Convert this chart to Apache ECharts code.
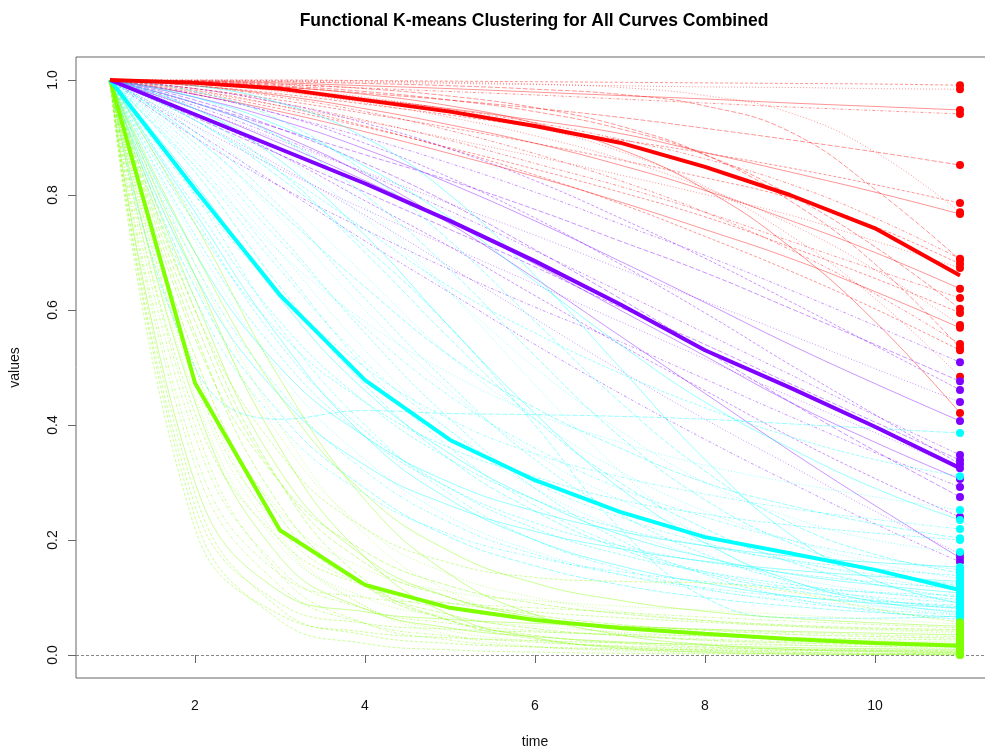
<!DOCTYPE html>
<html>
<head>
<meta charset="utf-8">
<script src="https://cdn.jsdelivr.net/npm/echarts@6/dist/echarts.min.js"></script>
<style>html,body{margin:0;padding:0;background:#fff}#c{width:985px;height:749px}</style>
</head>
<body>
<div id="c"></div>
<script>
const TIME = [1,2,3,4,5,6,7,8,9,10,11];
const X_TICKS = [2,4,6,8,10];
const Y_TICKS = [0,0.2,0.4,0.6,0.8,1.0];

const RED_CURVES = [
[1,1,1,0.999,0.998,0.997,0.996,0.995,0.994,0.993,0.991],
[1,0.999,0.998,0.996,0.994,0.992,0.99,0.988,0.987,0.985,0.984],
[1,0.998,0.995,0.99,0.985,0.979,0.973,0.967,0.96,0.954,0.948],
[1,0.997,0.992,0.986,0.98,0.974,0.967,0.96,0.953,0.947,0.941],
[1,0.996,0.988,0.977,0.965,0.951,0.935,0.916,0.896,0.875,0.852],
[1,0.99,0.976,0.958,0.939,0.918,0.896,0.873,0.847,0.818,0.786],
[1,1,0.999,0.998,0.996,0.993,0.987,0.973,0.943,0.875,0.770],
[1,0.993,0.982,0.967,0.95,0.93,0.907,0.874,0.84,0.805,0.767],
[1,0.994,0.983,0.968,0.949,0.926,0.897,0.863,0.819,0.76,0.689],
[1,0.999,0.997,0.994,0.99,0.984,0.975,0.955,0.91,0.81,0.687],
[1,0.985,0.965,0.942,0.917,0.89,0.861,0.83,0.795,0.745,0.680],
[1,0.98,0.955,0.928,0.898,0.867,0.835,0.801,0.765,0.72,0.673],
[1,0.99,0.973,0.95,0.922,0.89,0.852,0.808,0.756,0.7,0.637],
[1,0.985,0.96,0.93,0.895,0.855,0.815,0.77,0.72,0.67,0.621],
[1,0.997,0.99,0.98,0.965,0.945,0.915,0.87,0.8,0.71,0.602],
[1,0.978,0.95,0.918,0.882,0.845,0.805,0.762,0.71,0.655,0.595],
[1,0.993,0.98,0.96,0.935,0.903,0.863,0.812,0.75,0.67,0.574],
[1,0.975,0.945,0.91,0.872,0.832,0.788,0.74,0.69,0.632,0.569],
[1,0.99,0.97,0.945,0.912,0.872,0.825,0.77,0.705,0.628,0.541],
[1,0.998,0.993,0.985,0.972,0.952,0.92,0.87,0.79,0.68,0.534],
[1,0.982,0.955,0.92,0.88,0.835,0.785,0.728,0.668,0.602,0.530],
[1,0.995,0.985,0.97,0.948,0.918,0.876,0.815,0.73,0.62,0.484],
[1,0.996,0.988,0.975,0.955,0.925,0.88,0.81,0.71,0.58,0.421]
];

const PURPLE_CURVES = [
[1,0.975,0.94,0.9,0.855,0.805,0.75,0.695,0.635,0.573,0.509],
[1,0.96,0.915,0.87,0.825,0.775,0.72,0.665,0.603,0.54,0.476],
[1,0.985,0.96,0.925,0.88,0.825,0.76,0.69,0.615,0.538,0.461],
[1,0.95,0.895,0.84,0.785,0.73,0.672,0.615,0.557,0.498,0.44],
[1,0.97,0.93,0.88,0.82,0.755,0.685,0.613,0.54,0.472,0.407],
[1,0.955,0.9,0.838,0.772,0.703,0.632,0.56,0.488,0.417,0.348],
[1,0.935,0.87,0.805,0.74,0.675,0.605,0.54,0.472,0.405,0.339],
[1,0.975,0.94,0.89,0.83,0.76,0.68,0.595,0.505,0.418,0.332],
[1,0.92,0.845,0.775,0.71,0.645,0.58,0.515,0.45,0.387,0.325],
[1,0.95,0.89,0.825,0.755,0.68,0.6,0.52,0.44,0.37,0.306],
[1,0.9,0.815,0.74,0.67,0.605,0.545,0.48,0.415,0.352,0.292],
[1,0.965,0.915,0.855,0.785,0.705,0.62,0.53,0.44,0.355,0.275],
[1,0.94,0.87,0.79,0.71,0.625,0.54,0.46,0.38,0.307,0.24],
[1,0.93,0.85,0.765,0.675,0.585,0.495,0.41,0.33,0.25,0.176],
[1,0.96,0.905,0.835,0.75,0.655,0.555,0.455,0.355,0.26,0.169],
[1,0.91,0.815,0.72,0.63,0.54,0.455,0.375,0.3,0.228,0.162]
];

const CYAN_CURVES = [
[1,0.5,0.41,0.425,0.42,0.418,0.415,0.41,0.402,0.394,0.386],
[1,0.93,0.84,0.74,0.64,0.56,0.49,0.43,0.38,0.34,0.311],
[1,0.85,0.7,0.58,0.49,0.42,0.37,0.33,0.3,0.275,0.252],
[1,0.97,0.92,0.85,0.76,0.65,0.54,0.44,0.36,0.29,0.235],
[1,0.8,0.63,0.5,0.41,0.35,0.31,0.28,0.255,0.236,0.219],
[1,0.9,0.77,0.64,0.52,0.43,0.36,0.3,0.26,0.228,0.203],
[1,0.75,0.56,0.44,0.36,0.31,0.27,0.245,0.226,0.212,0.2],
[1,0.95,0.87,0.76,0.63,0.5,0.39,0.3,0.24,0.2,0.179],
[1,0.7,0.5,0.38,0.3,0.25,0.215,0.19,0.172,0.161,0.153],
[1,0.88,0.72,0.57,0.45,0.36,0.29,0.24,0.2,0.17,0.148],
[1,0.98,0.93,0.84,0.72,0.58,0.44,0.32,0.23,0.175,0.143],
[1,0.78,0.58,0.44,0.34,0.27,0.22,0.19,0.165,0.15,0.138],
[1,0.92,0.8,0.66,0.52,0.41,0.32,0.25,0.2,0.16,0.133],
[1,0.66,0.45,0.33,0.26,0.215,0.185,0.163,0.148,0.137,0.128],
[1,0.85,0.67,0.51,0.39,0.3,0.24,0.195,0.163,0.14,0.124],
[1,0.96,0.9,0.8,0.67,0.52,0.38,0.27,0.195,0.148,0.12],
[1,0.73,0.52,0.38,0.29,0.23,0.19,0.162,0.142,0.127,0.116],
[1,0.9,0.76,0.6,0.46,0.35,0.27,0.21,0.167,0.135,0.112],
[1,0.82,0.62,0.46,0.35,0.27,0.21,0.17,0.141,0.122,0.108],
[1,0.62,0.4,0.28,0.21,0.17,0.145,0.128,0.117,0.109,0.104],
[1,0.94,0.84,0.7,0.55,0.41,0.3,0.22,0.162,0.123,0.1],
[1,0.76,0.54,0.39,0.29,0.22,0.175,0.145,0.123,0.108,0.097],
[1,0.87,0.7,0.53,0.39,0.29,0.22,0.17,0.135,0.11,0.094],
[1,0.99,0.96,0.9,0.8,0.66,0.5,0.34,0.21,0.13,0.09],
[1,0.68,0.46,0.32,0.23,0.175,0.14,0.117,0.102,0.093,0.087],
[1,0.84,0.64,0.47,0.34,0.25,0.185,0.142,0.113,0.095,0.084],
[1,0.91,0.78,0.62,0.47,0.34,0.245,0.175,0.128,0.098,0.08],
[1,0.72,0.49,0.34,0.24,0.18,0.14,0.113,0.096,0.085,0.077],
[1,0.95,0.86,0.73,0.57,0.42,0.29,0.195,0.13,0.093,0.074],
[1,0.8,0.57,0.4,0.28,0.2,0.15,0.115,0.093,0.079,0.07],
[1,0.64,0.42,0.29,0.205,0.155,0.122,0.1,0.085,0.074,0.066],
[1,0.89,0.73,0.56,0.41,0.29,0.2,0.14,0.1,0.076,0.062],
[1,0.97,0.9,0.78,0.63,0.47,0.32,0.2,0.125,0.087,0.072],
[1,0.77,0.55,0.38,0.27,0.2,0.155,0.125,0.103,0.09,0.082],
[1,0.86,0.68,0.5,0.36,0.26,0.19,0.145,0.118,0.101,0.092],
[1,0.93,0.83,0.71,0.57,0.4,0.22,0.1,0.065,0.064,0.068]
];

const GREEN_CURVES = [
[1,0.6,0.35,0.22,0.16,0.135,0.128,0.125,0.11,0.08,0.057],
[1,0.5,0.25,0.15,0.11,0.095,0.085,0.078,0.07,0.062,0.054],
[1,0.7,0.45,0.28,0.18,0.125,0.095,0.076,0.064,0.056,0.05],
[1,0.35,0.14,0.1,0.09,0.082,0.074,0.066,0.059,0.053,0.047],
[1,0.55,0.3,0.18,0.12,0.09,0.072,0.06,0.052,0.047,0.044],
[1,0.42,0.2,0.12,0.09,0.075,0.065,0.057,0.05,0.045,0.041],
[1,0.65,0.38,0.22,0.14,0.1,0.076,0.06,0.05,0.043,0.038],
[1,0.3,0.11,0.075,0.062,0.055,0.05,0.045,0.041,0.038,0.035],
[1,0.48,0.22,0.12,0.08,0.062,0.051,0.044,0.039,0.035,0.032],
[1,0.58,0.3,0.16,0.1,0.07,0.053,0.043,0.036,0.032,0.029],
[1,0.26,0.09,0.055,0.045,0.04,0.036,0.033,0.03,0.028,0.026],
[1,0.45,0.19,0.1,0.066,0.05,0.04,0.033,0.028,0.025,0.023],
[1,0.62,0.32,0.17,0.1,0.066,0.047,0.035,0.027,0.023,0.02],
[1,0.38,0.15,0.08,0.055,0.042,0.034,0.028,0.023,0.02,0.018],
[1,0.52,0.24,0.12,0.07,0.046,0.034,0.026,0.021,0.018,0.016],
[1,0.22,0.07,0.04,0.03,0.025,0.021,0.019,0.017,0.015,0.014],
[1,0.68,0.4,0.21,0.11,0.062,0.038,0.025,0.018,0.014,0.012],
[1,0.44,0.17,0.08,0.047,0.032,0.023,0.017,0.013,0.011,0.01],
[1,0.33,0.12,0.055,0.033,0.022,0.016,0.012,0.01,0.009,0.008],
[1,0.56,0.26,0.12,0.06,0.034,0.021,0.014,0.01,0.008,0.007],
[1,0.28,0.08,0.035,0.02,0.014,0.011,0.009,0.008,0.007,0.006],
[1,0.47,0.2,0.085,0.042,0.024,0.015,0.01,0.007,0.006,0.005],
[1,0.75,0.48,0.27,0.14,0.07,0.035,0.018,0.01,0.006,0.004],
[1,0.4,0.14,0.055,0.026,0.014,0.009,0.006,0.004,0.003,0.003],
[1,0.6,0.3,0.13,0.06,0.028,0.014,0.008,0.005,0.003,0.002],
[1,0.24,0.06,0.02,0.009,0.005,0.003,0.002,0.002,0.001,0.001],
[1,0.5,0.21,0.085,0.035,0.015,0.007,0.003,0.001,0.0,0.0],
[1,0.66,0.36,0.17,0.07,0.03,0.012,0.005,0.002,0.001,0.0]
];

const RED_MEAN    = [1,0.995,0.985,0.965,0.945,0.92,0.891,0.849,0.80,0.742,0.66];
const PURPLE_MEAN = [1,0.94,0.88,0.82,0.755,0.685,0.61,0.53,0.465,0.397,0.325];
const CYAN_MEAN   = [1,0.81,0.626,0.478,0.374,0.304,0.249,0.205,0.177,0.148,0.113];
const GREEN_MEAN  = [1,0.473,0.217,0.122,0.082,0.061,0.047,0.037,0.028,0.021,0.016];

const COLORS = {red:'#FF0000', purple:'#8000FF', cyan:'#00FFFF', green:'#80FF00'};
const DASHES = [[3,2],[1,2],'solid',[1,2,3,2],[5,2]];
const FONT = "'Liberation Sans', Arial, Helvetica, sans-serif";

const clusters = [
  {curves: RED_CURVES, mean: RED_MEAN, color: COLORS.red},
  {curves: PURPLE_CURVES, mean: PURPLE_MEAN, color: COLORS.purple},
  {curves: CYAN_CURVES, mean: CYAN_MEAN, color: COLORS.cyan},
  {curves: GREEN_CURVES, mean: GREEN_MEAN, color: COLORS.green}
];

const series = [];
let idx = 0;
clusters.forEach(cl => {
  cl.curves.forEach(c => {
    series.push({
      type:'line', silent:true, symbol:'none', showSymbol:false,
      smooth:0.45, z:2,
      data: TIME.map((t,k)=>[t,c[k]]),
      lineStyle:{color:cl.color, width:1, opacity:0.42, type: DASHES[idx % DASHES.length]}
    });
    idx++;
  });
});
clusters.slice().reverse().forEach(cl => {
  series.push({
    type:'line', silent:true, symbol:'none', showSymbol:false, smooth:false, z:4,
    data: TIME.map((t,k)=>[t,cl.mean[k]]),
    lineStyle:{color:cl.color, width:4, opacity:1}
  });
});
clusters.forEach(cl => {
  series.push({
    type:'scatter', silent:true, symbol:'circle', symbolSize:8, z:6,
    data: cl.curves.map(c => [TIME[TIME.length-1], c[c.length-1]]),
    itemStyle:{color:cl.color, opacity:1}
  });
});
series[0].markLine = {
  silent:true, symbol:'none', label:{show:false},
  lineStyle:{color:'#888', type:[3,2], width:1, opacity:1},
  data:[{yAxis:0}]
};

const chart = echarts.init(document.getElementById('c'), null, {renderer:'canvas'});
chart.setOption({
  animation:false,
  backgroundColor:'#fff',
  title:{
    text:'Functional K-means Clustering for All Curves Combined',
    left:529, top:7, textAlign:'center',
    textStyle:{fontFamily:FONT, fontSize:17.5, fontWeight:'bold', color:'#000'}
  },
  grid:{left:76, top:57, width:918, height:621, show:true, borderColor:'#666', borderWidth:1,
        containLabel:false, outerBoundsMode:'none'},
  xAxis:{
    type:'value', min:0.6, max:11.4,
    axisLine:{show:false},
    axisTick:{show:true, customValues:X_TICKS, length:8, lineStyle:{color:'#666'}},
    axisLabel:{customValues:X_TICKS, margin:21, fontSize:14, fontFamily:FONT, color:'#111'},
    splitLine:{show:false},
    name:'time', nameLocation:'middle', nameGap:57,
    nameTextStyle:{fontSize:14, fontFamily:FONT, color:'#111'}
  },
  yAxis:{
    type:'value', min:-0.04, max:1.04,
    axisLine:{show:false},
    axisTick:{show:true, customValues:Y_TICKS, length:8, lineStyle:{color:'#666'}},
    axisLabel:{customValues:Y_TICKS, rotate:90, margin:16, fontSize:14, fontFamily:FONT, color:'#111',
               formatter: v => v.toFixed(1)},
    splitLine:{show:false},
    name:'values', nameLocation:'middle', nameGap:54, nameRotate:90,
    nameTextStyle:{fontSize:14, fontFamily:FONT, color:'#111'}
  },
  series: series
});
</script>
</body>
</html>
